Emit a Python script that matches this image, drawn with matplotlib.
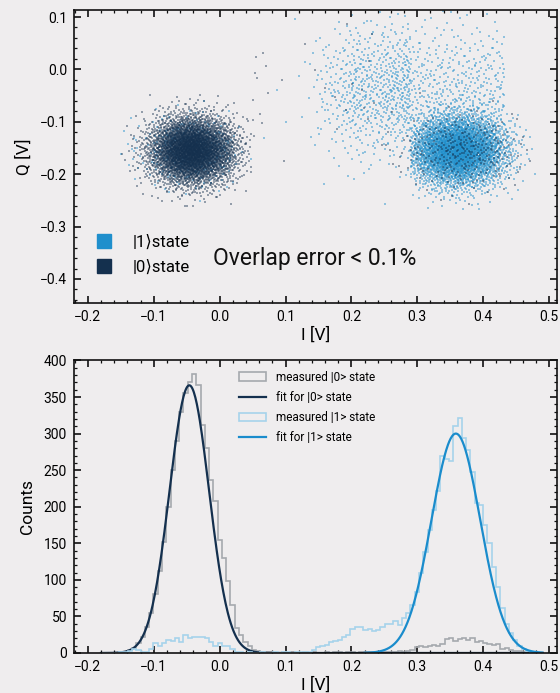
import math
import numpy as np
import matplotlib
matplotlib.use("Agg")
import matplotlib.pyplot as plt
from matplotlib.lines import Line2D
from matplotlib.ticker import MultipleLocator

# ---------------- data ----------------
bin_start = -0.1785
bin_width = 0.0065

# histogram of I for shots prepared in |0>
counts0 = [0, 0, 0, 0,
           1, 2, 4, 7, 13, 22, 36, 55, 80, 112, 152, 200, 250, 290, 330, 355, 371,
           381, 367, 312, 280, 237, 208, 155, 130, 98, 66, 34, 25, 15, 9, 4, 3, 2, 1,
           1, 0, 0, 1, 0, 1, 0, 0, 1, 0, 1, 0, 0, 1, 0, 1, 1, 0, 2, 1, 0, 1, 1, 2, 1, 1,
           1, 2, 2, 1, 3, 2, 3, 4,
           8, 9, 8,
           10, 11, 10, 12,
           19, 20, 17,
           19, 20, 18, 20,
           15, 16, 14,
           12, 11, 12,
           6, 7,
           4, 3, 3,
           1, 2, 1,
           0, 0]

# histogram of I for shots prepared in |1>
counts1 = [0, 0, 0, 0, 1, 1,
           3, 6, 4, 1, 2, 5, 13, 9, 13, 18, 17, 20, 15, 24, 20, 22, 22, 22, 20, 15, 9, 13, 9, 9, 5, 2,
           1, 0, 1, 0, 0, 1, 0, 0, 1, 0, 1, 1, 0, 1, 2, 1,
           2, 4, 8, 9, 11, 15, 16, 18, 22, 25, 33, 35, 36, 31, 33, 30, 31, 36, 40, 39, 44, 38,
           48, 55, 66, 84, 110, 138, 168, 196, 222,
           269, 265, 263, 311, 321, 294, 278, 248, 205, 202,
           175, 150, 118, 90, 62, 40, 27, 18, 10, 6, 3, 2, 1, 0]

# gaussian fits: amplitude, centre, width
fit0 = (366.0, -0.046, 0.030)
fit1 = (300.0, 0.3585, 0.037)
fit0_span = (-0.18, 0.49)
fit1_span = (0.22, 0.49)

# Q distribution of the clouds: centre, spread
q_ground_blob = (-0.155, 0.032)
q_excited_blob = (-0.155, 0.034)
q_haze = (-0.04, 0.066)
haze_i_range = (0.07, 0.29, 0.43)
haze_per_bin = 20

legend_top = ["|1\u27e9state", "|0\u27e9state"]
legend_bottom = ["measured |0> state", "fit for |0> state",
                 "measured |1> state", "fit for |1> state"]
overlap_text = "Overlap error < 0.1%"

# ---------------- style ----------------
bg = "#efedee"
c_dark = "#14304e"
c_blue = "#1f8fcc"
c_fit1 = "#1a8ccc"
c_hist0 = "#a5a9ae"
c_hist1 = "#a6d3eb"

plt.rcParams["font.family"] = ["Roboto", "DejaVu Sans"]
plt.rcParams["axes.unicode_minus"] = True

edges0 = bin_start + bin_width * np.arange(len(counts0) + 1)
edges1 = bin_start + bin_width * np.arange(len(counts1) + 1)

# inverse normal cdf by table lookup
_z = np.linspace(-4.5, 4.5, 3001)
_cdf = 0.5 * (1 + np.array([math.erf(v / math.sqrt(2)) for v in _z]))


def ppf(p):
    return np.interp(p, _cdf, _z)


def radical_inverse(k, base):
    k = np.array(k, dtype=np.int64)
    out = np.zeros(len(k))
    f = 1.0 / base
    while np.any(k > 0):
        out += f * (k % base)
        k //= base
        f /= base
    return out


def cloud(edges, counts, qpar, skip):
    """Quasi-evenly spread the shots of a histogram in I, gaussian in Q."""
    counts = np.asarray(counts, dtype=float)
    n = int(counts.sum())
    if n == 0:
        return np.array([]), np.array([])
    k = np.arange(1, n + 1) + skip
    u = radical_inverse(k, 2)
    v = radical_inverse(k, 3)
    cum = np.concatenate([[0.0], np.cumsum(counts)]) / counts.sum()
    I = np.interp(u, cum, edges)
    Q = qpar[0] + qpar[1] * ppf(np.clip(v, 0.0005, 0.9995))
    return I, Q


centres1 = 0.5 * (edges1[:-1] + edges1[1:])
centres0 = 0.5 * (edges0[:-1] + edges0[1:])
c1 = np.asarray(counts1)
c0 = np.asarray(counts0)

haze1 = np.where((centres1 >= haze_i_range[0]) & (centres1 < haze_i_range[1]), c1,
                 np.where((centres1 >= haze_i_range[1]) & (centres1 < haze_i_range[2]),
                          np.minimum(c1, haze_per_bin), 0))
core1 = c1 - haze1
ground0 = np.where(centres0 < 0.05, c0, 0)
haze0 = np.where((centres0 >= 0.05) & (centres0 < 0.25), c0, 0)
exc0 = np.where(centres0 >= 0.25, c0, 0)

I1c, Q1c = cloud(edges1, core1, q_excited_blob, 17)
I1h, Q1h = cloud(edges1, haze1, q_haze, 7001)
I0g, Q0g = cloud(edges0, ground0, q_ground_blob, 3301)
I0h, Q0h = cloud(edges0, haze0, q_haze, 911)
I0e, Q0e = cloud(edges0, exc0, q_excited_blob, 12345)
I1 = np.concatenate([I1c, I1h])
Q1 = np.concatenate([Q1c, Q1h])
I0 = np.concatenate([I0g, I0h, I0e])
Q0 = np.concatenate([Q0g, Q0h, Q0e])

# ---------------- figure ----------------
fig = plt.figure(figsize=(5.6, 6.93), dpi=100, facecolor=bg)
ax1 = fig.add_axes([74 / 560, 1 - 303.3 / 693, 483 / 560, 293.3 / 693])
ax2 = fig.add_axes([74 / 560, 1 - 653 / 693, 483 / 560, 293 / 693])


def style(ax):
    ax.set_facecolor(bg)
    for s in ax.spines.values():
        s.set_linewidth(1.2)
        s.set_color("#111111")
    ax.tick_params(which="both", direction="in", top=True, right=True,
                   labelsize=10, pad=5, color="#111111")
    ax.tick_params(which="major", length=5, width=1.2)
    ax.tick_params(which="minor", length=2.5, width=0.9)


# top: IQ scatter
ax1.scatter(I1, Q1, s=1.4, marker="s", color=c_blue, alpha=0.45, linewidths=0,
            rasterized=True)
ax1.scatter(I0, Q0, s=1.4, marker="s", color=c_dark, alpha=0.42, linewidths=0,
            rasterized=True)
ax1.set_xlim(-0.221, 0.512)
ax1.set_ylim(-0.4464, 0.1134)
ax1.xaxis.set_major_locator(MultipleLocator(0.1))
ax1.xaxis.set_minor_locator(MultipleLocator(0.02))
ax1.yaxis.set_major_locator(MultipleLocator(0.1))
ax1.yaxis.set_minor_locator(MultipleLocator(0.02))
style(ax1)
ax1.set_xlabel("I [V]", fontsize=12.5, labelpad=2)
ax1.set_ylabel("Q [V]", fontsize=12.5, labelpad=6)
h_top = [Line2D([], [], marker="s", linestyle="none", markersize=10,
                color=c_blue, label=legend_top[0]),
         Line2D([], [], marker="s", linestyle="none", markersize=10,
                color=c_dark, label=legend_top[1])]
ax1.legend(handles=h_top, loc="lower left", bbox_to_anchor=(-0.014, 0.03),
           frameon=False, fontsize=12, handletextpad=0.75, labelspacing=0.6,
           borderaxespad=0.8)
ax1.text(-0.01, -0.36, overlap_text, fontsize=16.5, ha="left", va="center",
         color="#111111")

# bottom: histograms and fits
_, _, p0 = ax2.hist(edges0[:-1], bins=edges0, weights=counts0, histtype="step",
                    color=c_hist0, linewidth=1.2, label=legend_bottom[0])
xf0 = np.linspace(fit0_span[0], fit0_span[1], 600)
l0, = ax2.plot(xf0, fit0[0] * np.exp(-(xf0 - fit0[1]) ** 2 / (2 * fit0[2] ** 2)),
               color=c_dark, linewidth=1.6, label=legend_bottom[1])
_, _, p1 = ax2.hist(edges1[:-1], bins=edges1, weights=counts1, histtype="step",
                    color=c_hist1, linewidth=1.2, label=legend_bottom[2])
xf1 = np.linspace(fit1_span[0], fit1_span[1], 400)
l1, = ax2.plot(xf1, fit1[0] * np.exp(-(xf1 - fit1[1]) ** 2 / (2 * fit1[2] ** 2)),
               color=c_fit1, linewidth=1.6, label=legend_bottom[3])
ax2.set_xlim(-0.221, 0.512)
ax2.set_ylim(0, 400.6)
ax2.xaxis.set_major_locator(MultipleLocator(0.1))
ax2.xaxis.set_minor_locator(MultipleLocator(0.02))
ax2.yaxis.set_major_locator(MultipleLocator(50))
ax2.yaxis.set_minor_locator(MultipleLocator(10))
style(ax2)
ax2.set_xlabel("I [V]", fontsize=12.5, labelpad=2)
ax2.set_ylabel("Counts", fontsize=12.5, labelpad=6)
ax2.legend(handles=[p0[0], l0, p1[0], l1], loc="upper left",
           bbox_to_anchor=(0.32, 1.0), frameon=False, fontsize=8.5,
           handlelength=2.3, labelspacing=0.6)

fig.savefig("out.png", dpi=100, facecolor=bg)
